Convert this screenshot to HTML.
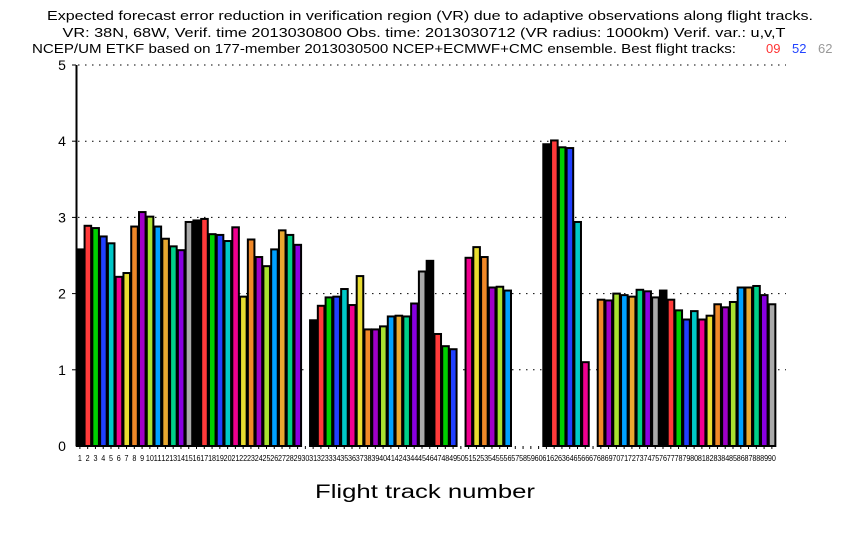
<!DOCTYPE html>
<html><head><meta charset="utf-8"><style>body{margin:0;background:#fff}svg{display:block}</style></head>
<body>
<svg id="s" width="850" height="540" xmlns="http://www.w3.org/2000/svg" font-family="Liberation Sans, sans-serif">
<rect width="850" height="540" fill="#fff"/>
<text x="430" y="20" font-size="13" text-anchor="middle" textLength="766" lengthAdjust="spacingAndGlyphs">Expected forecast error reduction in verification region (VR) due to adaptive observations along flight tracks.</text>
<text x="424" y="37" font-size="13" text-anchor="middle" textLength="723" lengthAdjust="spacingAndGlyphs">VR: 38N, 68W, Verif. time 2013030800 Obs. time: 2013030712 (VR radius: 1000km)  Verif. var.: u,v,T</text>
<text x="32" y="53" font-size="13" textLength="704" lengthAdjust="spacingAndGlyphs">NCEP/UM ETKF based on 177-member 2013030500 NCEP+ECMWF+CMC ensemble. Best flight tracks:</text>
<text x="766" y="53" font-size="13" fill="#ff3333">09</text>
<text x="792" y="53" font-size="13" fill="#2244ff">52</text>
<text x="818" y="53" font-size="13" fill="#999">62</text>
<text x="425" y="498" font-size="19" text-anchor="middle" textLength="220" lengthAdjust="spacingAndGlyphs">Flight track number</text>
<g id="g"></g>
</svg>
<script>
var v=[2.58,2.89,2.86,2.75,2.66,2.22,2.27,2.88,3.07,3.01,2.88,2.72,2.62,2.57,2.94,2.96,2.98,2.78,2.77,2.69,2.87,1.96,2.71,2.48,2.36,2.58,2.83,2.77,2.64,0,1.65,1.84,1.95,1.96,2.06,1.85,2.23,1.53,1.53,1.57,1.70,1.71,1.70,1.87,2.29,2.43,1.47,1.31,1.27,0,2.47,2.61,2.48,2.08,2.09,2.04,0,0,0,0,3.96,4.01,3.92,3.91,2.94,1.10,0,1.92,1.91,2.00,1.98,1.96,2.05,2.03,1.95,2.04,1.92,1.78,1.66,1.77,1.66,1.71,1.86,1.82,1.89,2.08,2.08,2.10,1.98,1.86];
var c=["#000","#ff3a3a","#00d000","#2040ff","#00c8c8","#f00090","#e8dc30","#f08828","#a000c8","#a8e030","#00a0ff","#e8a830","#00d088","#8800e0","#aaaaaa"];
var y0=446,k=76.2,x0=76,s=7.775,h='';
for(var i=1;i<=5;i++){var y=y0-i*k;h+='<line x1="78" y1="'+y+'" x2="786" y2="'+y+'" stroke="#000" stroke-dasharray="1.5,5.5"/>';
h+='<text x="62" y="'+(y+5)+'" font-size="14" text-anchor="middle">'+i+'</text><line x1="72" y1="'+y+'" x2="76" y2="'+y+'" stroke="#000"/>';}
h+='<text x="62" y="'+(y0+5)+'" font-size="14" text-anchor="middle">0</text>';
h+='<line x1="76.5" y1="'+(y0-5*k)+'" x2="76.5" y2="'+y0+'" stroke="#000" stroke-width="2"/>';
for(var i=0;i<90;i++){var x=x0+i*s;
 if(v[i]>0){var hh=v[i]*k;h+='<rect x="'+(x+0.8)+'" y="'+(y0-hh)+'" width="'+(s-1.2)+'" height="'+hh+'" fill="'+c[i%15]+'" stroke="#000" stroke-width="2"/>';}
 h+='<line x1="'+(x+s/2)+'" y1="'+y0+'" x2="'+(x+s/2)+'" y2="'+(y0+3)+'" stroke="#000"/>';
 h+='<text x="'+(x+s/2)+'" y="'+(y0+15)+'" font-size="8" text-anchor="middle" textLength="'+(i<9?4:8)+'" lengthAdjust="spacingAndGlyphs">'+(i+1)+'</text>';}
document.getElementById('g').innerHTML=h;
</script>
</body></html>
